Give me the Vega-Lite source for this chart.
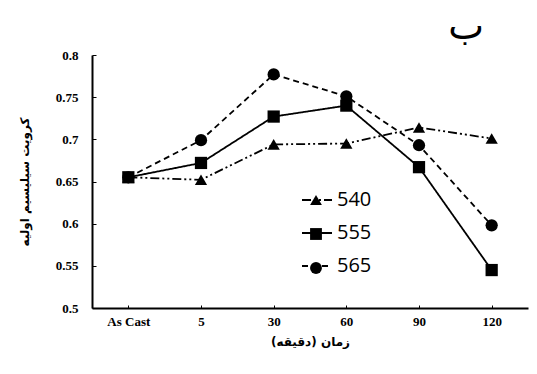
{
  "$schema": "https://vega.github.io/schema/vega-lite/v6.json",
  "width": 436,
  "height": 253,
  "autosize": {"type": "none"},
  "padding": {"left": 92, "top": 55, "right": 5, "bottom": 66},
  "background": "white",
  "title": {"text": "ب", "anchor": "end", "fontSize": 38, "font": "DejaVu Sans", "fontWeight": "normal", "color": "black", "dx": -44, "offset": 2},
  "data": {"values": [
    {"t": "As Cast", "s": "540", "v": 0.655},
    {"t": "5", "s": "540", "v": 0.652},
    {"t": "30", "s": "540", "v": 0.694},
    {"t": "60", "s": "540", "v": 0.695},
    {"t": "90", "s": "540", "v": 0.714},
    {"t": "120", "s": "540", "v": 0.701},
    {"t": "As Cast", "s": "555", "v": 0.655},
    {"t": "5", "s": "555", "v": 0.672},
    {"t": "30", "s": "555", "v": 0.727},
    {"t": "60", "s": "555", "v": 0.740},
    {"t": "90", "s": "555", "v": 0.667},
    {"t": "120", "s": "555", "v": 0.545},
    {"t": "As Cast", "s": "565", "v": 0.655},
    {"t": "5", "s": "565", "v": 0.699},
    {"t": "30", "s": "565", "v": 0.777},
    {"t": "60", "s": "565", "v": 0.751},
    {"t": "90", "s": "565", "v": 0.693},
    {"t": "120", "s": "565", "v": 0.598}
  ]},
  "encoding": {
    "x": {"field": "t", "type": "ordinal", "sort": ["As Cast", "5", "30", "60", "90", "120"],
      "scale": {"type": "point", "padding": 0.5},
      "axis": {"title": "زمان (دقیقه)", "titleFont": "DejaVu Sans", "titleFontSize": 12, "titleFontWeight": "bold", "titlePadding": 8,
        "labelAngle": 0, "labelFont": "Liberation Serif", "labelFontWeight": "bold", "labelFontSize": 13, "labelPadding": 10,
        "domainColor": "black", "domainWidth": 2, "tickColor": "black", "tickSize": -3, "tickWidth": 1}},
    "y": {"field": "v", "type": "quantitative",
      "scale": {"domain": [0.5, 0.8], "zero": false},
      "axis": {"title": "کرویت سیلیسیم اولیه", "titleFont": "DejaVu Sans", "titleFontSize": 12, "titleFontWeight": "bold", "titlePadding": 24,
        "values": [0.5, 0.55, 0.6, 0.65, 0.7, 0.75, 0.8], "format": "~g",
        "labelFont": "Liberation Serif", "labelFontWeight": "bold", "labelFontSize": 13, "labelPadding": 18,
        "domainColor": "black", "domainWidth": 2, "tickColor": "black", "tickSize": -4, "tickWidth": 1, "grid": false}}
  },
  "layer": [
    {
      "mark": {"type": "line", "color": "black", "strokeWidth": 1.8},
      "encoding": {
        "detail": {"field": "s"},
        "strokeDash": {"field": "s", "type": "nominal",
          "scale": {"domain": ["565", "555", "540"], "range": [[6, 4], [1, 0], [9, 3, 2, 3, 2, 3]]},
          "legend": {"title": null, "orient": "none", "legendX": 209, "legendY": 129, "values": ["540", "555", "565"],
            "symbolType": "stroke", "symbolSize": 900, "symbolStrokeWidth": 2, "symbolStrokeColor": "black",
            "labelFont": "Open Sans", "labelFontSize": 20, "labelColor": "black", "rowPadding": 7, "labelOffset": 4}}
      }
    },
    {
      "mark": {"type": "point", "filled": true, "color": "black", "opacity": 1, "size": 150},
      "encoding": {
        "shape": {"field": "s", "type": "nominal",
          "scale": {"domain": ["540", "555", "565"], "range": ["triangle-up", "square", "circle"]},
          "legend": {"title": null, "orient": "none", "legendX": 217, "legendY": 138,
            "labelExpr": "''", "labelFontSize": 1, "rowPadding": 16,
            "symbolSize": 140, "symbolFillColor": "black", "symbolStrokeColor": "black", "symbolOpacity": 1, "labelOffset": 0}}
      }
    }
  ],
  "config": {"view": {"stroke": null}, "axis": {"labelColor": "black", "titleColor": "black"}}
}
